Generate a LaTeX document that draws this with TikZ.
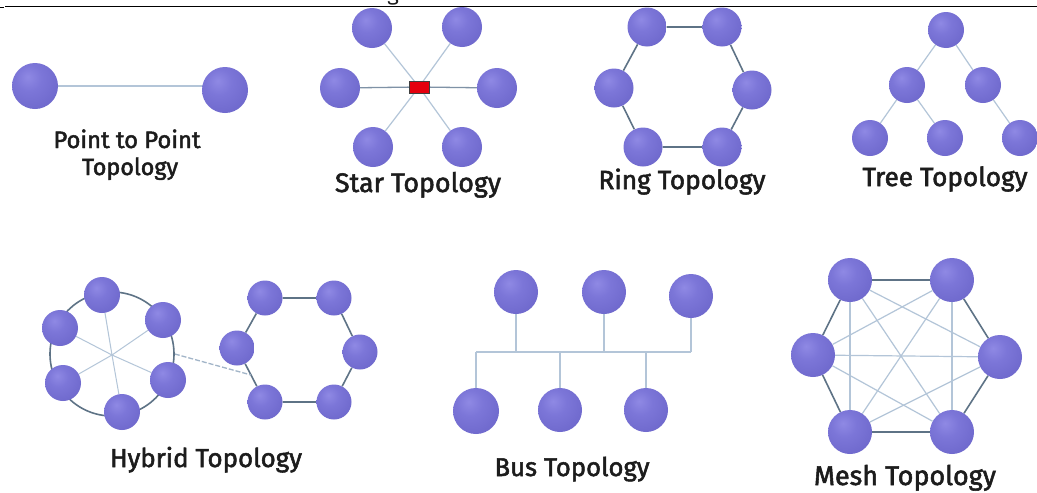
\documentclass[tikz,border=0pt]{standalone}
\usepackage{fontspec}
\setmainfont{Fira Sans}
\newfontfamily\lblfont{Fira Sans}[FakeBold=2]
\usetikzlibrary{backgrounds,calc}

% palette
\definecolor{sphHi}{HTML}{8F89E4}
\definecolor{sphMid}{HTML}{7C76D8}
\definecolor{sphBody}{HTML}{6C66CA}
\definecolor{sphEdge}{HTML}{5952B3}
\definecolor{linkLight}{HTML}{B3C5D8}
\definecolor{linkMid}{HTML}{7F92A6}
\definecolor{linkDark}{HTML}{5E7386}
\definecolor{hubRed}{HTML}{E5000E}
\definecolor{labelInk}{HTML}{1C1C1C}

% soft sphere look for the network nodes
\pgfdeclareradialshading{sphere}{\pgfqpoint{-8bp}{10bp}}{%
  color(0bp)=(sphHi); color(14bp)=(sphMid); color(38bp)=(sphBody);
  color(58bp)=(sphEdge); color(100bp)=(sphEdge)}

\newcommand\fitlabel[2]{\resizebox{#1pt}{!}{\lblfont #2}}

\tikzset{
  sph/.style={circle, inner sep=0pt, minimum size=#1, shading=sphere, draw=none},
  sph/.default=40,
  lnk/.style={draw=linkLight, line width=1.2pt},
  lnkmid/.style={draw=linkMid, line width=1.3pt},
  lnkdark/.style={draw=linkDark, line width=1.6pt},
  lbl/.style={anchor=base, text=labelInk, inner sep=0pt},
}

\begin{document}
\begin{tikzpicture}[x=1pt,y=-1pt]
\useasboundingbox (0,0) rectangle (1037,493);
\begin{scope}[on background layer]
  \fill[white] (0,0) rectangle (1037,493);
\end{scope}

% header rule and the tail of the heading above it
\node[lbl, font=\fontsize{22}{26}\selectfont] (head) at (393,0.5) {g};
\coordinate (ruleL) at (5,6.5);
\coordinate (ruleR) at (1037,6.5);
\draw[black, line width=1.4pt] (ruleL) -- (ruleR);
\coordinate (tickL) at (0,7.5);
\coordinate (tickR) at (4,7.5);
\draw[black, line width=1.8pt] (tickL) -- (tickR);

% ---------- point to point ----------
\node[sph=46] (p1) at (35,86) {};
\node[sph=46] (p2) at (225,90) {};
\node[lbl] (pl1) at (127,148) {\fitlabel{147}{Point to Point}};
\node[lbl] (pl2) at (130,175) {\fitlabel{96}{Topology}};

% ---------- star ----------
\node[sph=40] (s1) at (372,28) {};
\node[sph=40] (s2) at (462,27) {};
\node[sph=40] (s3) at (340,88) {};
\node[sph=40] (s4) at (497,88) {};
\node[sph=40] (s5) at (373,147) {};
\node[sph=40] (s6) at (462,147) {};
\node[draw=black!75, line width=0.5pt, fill=hubRed, minimum width=20pt,
      minimum height=12pt, inner sep=0pt] (hub) at (419,87) {};
\node[lbl] (sl) at (418,192) {\fitlabel{166}{Star Topology}};

% ---------- ring ----------
\node[sph=39] (r1) at (647,27) {};
\node[sph=39] (r2) at (722,27) {};
\node[sph=39] (r3) at (752,90) {};
\node[sph=39] (r4) at (722,147) {};
\node[sph=39] (r5) at (643,147) {};
\node[sph=39] (r6) at (614,88) {};
\node[lbl] (rl) at (682,189) {\fitlabel{167}{Ring Topology}};

% ---------- tree ----------
\node[sph=36] (t1) at (946,30) {};
\node[sph=36] (t2) at (907,85) {};
\node[sph=36] (t3) at (983,85) {};
\node[sph=36] (t4) at (870,138) {};
\node[sph=36] (t5) at (945,138) {};
\node[sph=36] (t6) at (1020,138) {};
\node[lbl] (tl) at (945,186) {\fitlabel{165}{Tree Topology}};

% ---------- hybrid ----------
\node[circle, draw=linkDark, line width=1.6pt, minimum size=124pt, inner sep=0pt] (hring) at (112,354) {};
\coordinate (hc) at (112,355);
\node[sph=36] (h1) at (102,295) {};
\node[sph=36] (h2) at (163,320) {};
\node[sph=36] (h3) at (168,380) {};
\node[sph=36] (h4) at (122,412) {};
\node[sph=36] (h5) at (63,383) {};
\node[sph=36] (h6) at (60,328) {};
\node[sph=35] (g1) at (265,298) {};
\node[sph=35] (g2) at (334,298) {};
\node[sph=35] (g3) at (360,352) {};
\node[sph=35] (g4) at (334,402) {};
\node[sph=35] (g5) at (265,402) {};
\node[sph=35] (g6) at (237,348) {};
\coordinate (hx) at ($(g6)!0.5!(g5)$);
\node[lbl] (hl) at (206,467) {\fitlabel{192}{Hybrid Topology}};

% ---------- bus ----------
\node[sph=44] (b1) at (516,292) {};
\node[sph=44] (b2) at (604,292) {};
\node[sph=44] (b3) at (691,296) {};
\node[sph=46] (b4) at (476,411) {};
\node[sph=44] (b5) at (560,410) {};
\node[sph=44] (b6) at (646,410) {};
\coordinate (busL) at (476,352);
\coordinate (busR) at (691,352);
\node[lbl] (bl) at (572,476) {\fitlabel{155}{Bus Topology}};

% ---------- mesh ----------
\node[sph=44] (m1) at (850,280) {};
\node[sph=44] (m2) at (952,280) {};
\node[sph=44] (m3) at (1000,357) {};
\node[sph=44] (m4) at (952,432) {};
\node[sph=44] (m5) at (850,432) {};
\node[sph=44] (m6) at (813,355) {};
\node[lbl] (ml) at (905,485) {\fitlabel{182}{Mesh Topology}};

% ---------- connectors (behind the spheres) ----------
\begin{scope}[on background layer]
  \draw[lnk] (p1) -- (p1 -| p2);

  \foreach \n in {s1,s2,s5,s6} \draw[lnk] (\n) -- (hub.center);
  \draw[lnkmid] (s3) -- (hub);
  \draw[lnkmid] (s4) -- (hub);

  \draw[lnkdark] (r1) -- (r2) -- (r3) -- (r4) -- (r5) -- (r6) -- (r1);

  \draw[lnk] (t1) -- (t2);
  \draw[lnk] (t1) -- (t3);
  \draw[lnk] (t2) -- (t4);
  \draw[lnk] (t2) -- (t5);
  \draw[lnk] (t3) -- (t6);

  \foreach \n in {h1,h2,h3,h4,h5,h6} \draw[lnk, line width=1pt] (hc) -- (\n);
  \draw[lnkdark] (g1) -- (g2) -- (g3) -- (g4) -- (g5) -- (g6) -- (g1);
  \draw[linkLight!80!linkDark, line width=1.3pt, dash pattern=on 5pt off 2pt] (hring.east) -- (hx);

  \draw[lnk] (busL) -- (busR);
  \foreach \n in {b1,b2,b3,b4,b5,b6} \draw[lnk] (\n) -- (\n |- busL);

  \draw[lnkdark] (m1) -- (m2) -- (m3) -- (m4) -- (m5) -- (m6) -- (m1);
  \draw[lnk] (m1) -- (m3);
  \draw[lnk] (m1) -- (m4);
  \draw[lnk] (m1) -- (m5);
  \draw[lnk] (m2) -- (m4);
  \draw[lnk] (m2) -- (m5);
  \draw[lnk] (m2) -- (m6);
  \draw[lnk] (m3) -- (m5);
  \draw[lnk] (m3) -- (m6);
  \draw[lnk] (m4) -- (m6);
\end{scope}
\end{tikzpicture}
\end{document}
